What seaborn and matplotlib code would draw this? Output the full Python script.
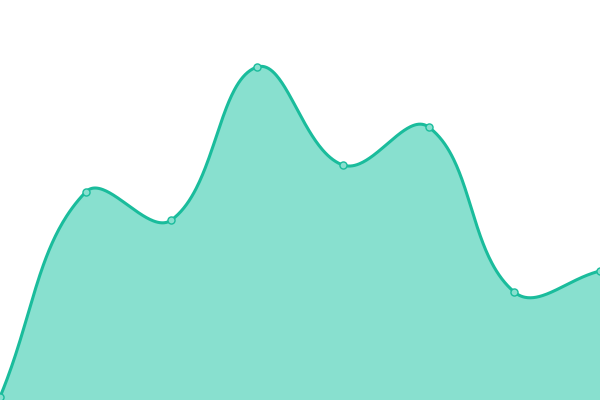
import numpy as np
import pandas as pd
import seaborn as sns
from matplotlib import pyplot as plt

# data (y axis 0..400)
x_values = [0, 1, 2, 3, 4, 5, 6, 7]
y_values = [3, 208, 180, 333, 235, 273, 108, 129]

LINE_COLOR = '#1abc9c'
FILL_COLOR = '#88e0cf'
TENSION = 0.4
WIDTH_PX, HEIGHT_PX = 600, 400
Y_MAX = 400


def spline_curve(xs, ys, tension=TENSION, steps=80):
    # bezier spline with distance-weighted control points (chart.js style),
    # worked out in pixel space so the bends look the same as on screen
    sx = WIDTH_PX / (len(xs) - 1)
    sy = HEIGHT_PX / Y_MAX
    pts = np.column_stack([np.asarray(xs, float) * sx, np.asarray(ys, float) * sy])
    n = len(pts)
    cp_prev = pts.copy()
    cp_next = pts.copy()
    for i in range(n):
        prev = pts[max(i - 1, 0)]
        nxt = pts[min(i + 1, n - 1)]
        d01 = np.hypot(*(pts[i] - prev))
        d12 = np.hypot(*(nxt - pts[i]))
        total = d01 + d12
        s01 = d01 / total if total else 0
        s12 = d12 / total if total else 0
        cp_prev[i] = pts[i] - tension * s01 * (nxt - prev)
        cp_next[i] = pts[i] + tension * s12 * (nxt - prev)
    out = []
    for i in range(n - 1):
        t = np.linspace(0, 1, steps, endpoint=(i == n - 2))[:, None]
        p0, c1, c2, p3 = pts[i], cp_next[i], cp_prev[i + 1], pts[i + 1]
        seg = (1 - t) ** 3 * p0 + 3 * (1 - t) ** 2 * t * c1 + 3 * (1 - t) * t**2 * c2 + t**3 * p3
        out.append(seg)
    out = np.vstack(out)
    return out[:, 0] / sx, out[:, 1] / sy


sns.set_style('white')

df = pd.DataFrame({'x': x_values, 'y': y_values})
cx, cy = spline_curve(df.x, df.y)
curve = pd.DataFrame({'x': cx, 'y': cy})

fig = plt.figure(figsize=(6, 4), dpi=100)
ax = fig.add_axes([0, 0, 1, 1])
ax.fill_between(curve.x, curve.y, 0, color=FILL_COLOR, linewidth=0)
sns.lineplot(data=curve, x='x', y='y', ax=ax, color=LINE_COLOR, linewidth=2.2, sort=False)
sns.scatterplot(
    data=df, x='x', y='y', ax=ax, s=26, color=FILL_COLOR, edgecolor=LINE_COLOR,
    linewidth=1.0, zorder=5, clip_on=False,
)
ax.set_xlim(0, 7)
ax.set_ylim(0, Y_MAX)
ax.axis('off')
fig.savefig('out.png', dpi=100)
